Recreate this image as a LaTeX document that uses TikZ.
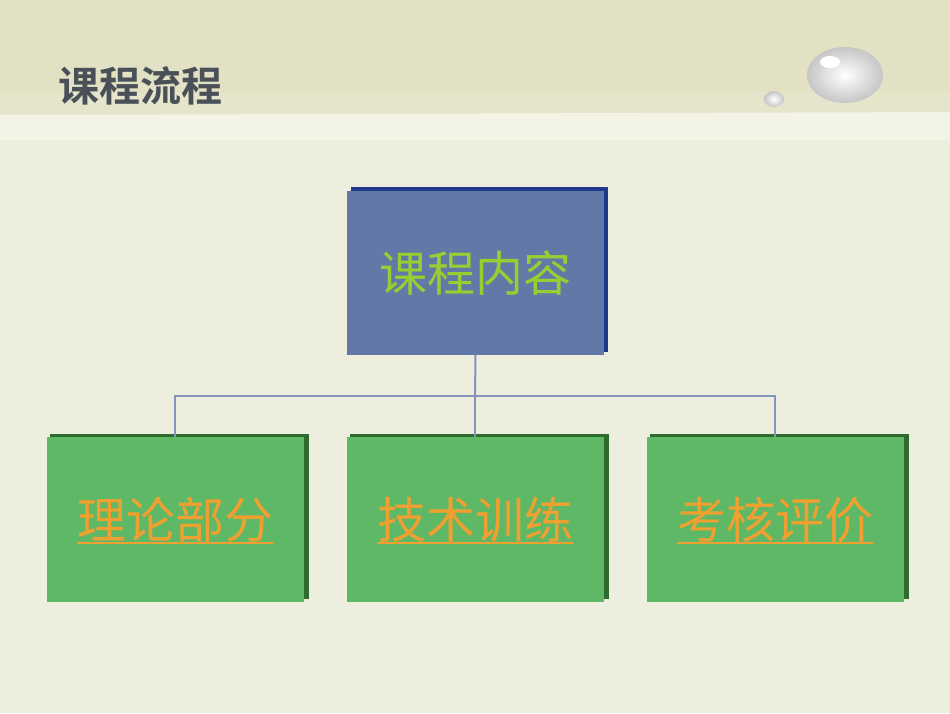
\documentclass[tikz,border=0pt]{standalone}
\usepackage{fontspec}
\newfontfamily\cjk{Noto Sans CJK SC}
\newfontfamily\cjkb{Noto Sans CJK SC Bold}
\definecolor{bg}{HTML}{EEEEDF}
\definecolor{band}{HTML}{E2E1C4}
\definecolor{strip}{HTML}{F3F3E6}
\definecolor{bluebox}{HTML}{6279A8}
\definecolor{blueshadow}{HTML}{1F3A8A}
\definecolor{greenbox}{HTML}{5FB865}
\definecolor{greenshadow}{HTML}{2E6B2E}
\definecolor{linec}{HTML}{8494BC}
\definecolor{topt}{HTML}{9ACD32}
\definecolor{subt}{HTML}{F0A030}
\definecolor{titlec}{HTML}{4A5058}
\tikzset{
 topbox/.style={fill=bluebox, minimum width=257pt, minimum height=164pt, inner sep=0pt, font=\cjk\fontsize{48}{52}\selectfont, text=topt},
 subbox/.style={fill=greenbox, minimum width=257pt, minimum height=165pt, inner sep=0pt},
 subtext/.style={font=\cjk\fontsize{49}{53}\selectfont, text=subt, inner sep=0pt},
 conn/.style={draw=linec, line width=2pt}
}
\begin{document}
\begin{tikzpicture}[x=1pt,y=-1pt]
\useasboundingbox (0,0) rectangle (950,713);
\fill[bg] (0,0) rectangle (950,713);
\fill[band] (0,0) rectangle (950,92);
\fill[band] (0,92) -- (330,92) .. controls (370,70) and (420,68) .. (950,60) -- (950,0) -- (0,0) -- cycle;
\fill[band!70!bg] (0,92) rectangle (950,115);
\fill[strip] (0,115) -- (950,112) -- (950,140) -- (0,140) -- cycle;
\shade[inner color=white, outer color=gray!45] (845,75) ellipse (38pt and 28pt);
\fill[white] (830,62) ellipse (10pt and 6pt);
\shade[inner color=white, outer color=gray!45] (774,99) ellipse (10pt and 8pt);
\node[font=\cjkb\fontsize{41}{45}\selectfont, text=titlec, anchor=west, inner sep=0pt] (title) at (58,86) {课程流程};
\fill[blueshadow] (351,187) rectangle (608,352);
\node[topbox] (top) at (475.5,273) {课程内容};
\foreach \x in {175,475,775}{
 \fill[greenshadow] (\x-125,434) rectangle (\x+134,599);
}
\node[subbox] (a) at (175,519.5) {};
\node[subbox] (b) at (475,519.5) {};
\node[subbox] (c) at (775,519.5) {};
\node[subtext] (ta) at (a.center) {理论部分};
\node[subtext] (tb) at (b.center) {技术训练};
\node[subtext] (tc) at (c.center) {考核评价};
\foreach \t in {ta,tb,tc}{
 \draw[subt, line width=1.5pt] ([yshift=-5pt]\t.base west) -- ([yshift=-5pt]\t.base east);
}
\coordinate (m) at (475,396);
\draw[conn] (top.south) -- (m);
\draw[conn] (a.north) |- (m) -| (c.north);
\draw[conn] (m) -- (b.north);
\end{tikzpicture}
\end{document}
